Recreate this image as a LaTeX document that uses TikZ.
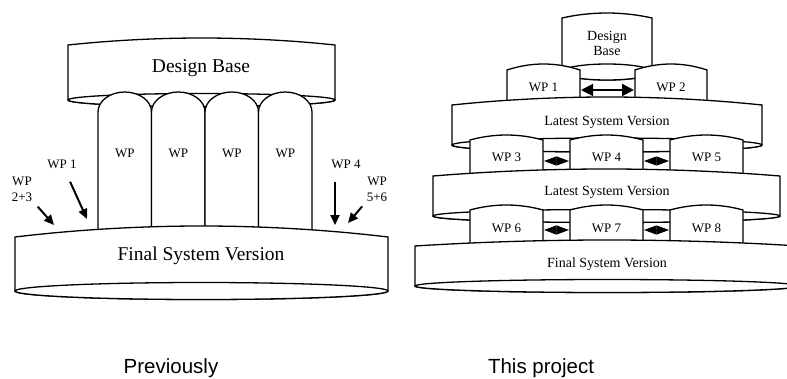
\documentclass[tikz,border=0pt]{standalone}
\usepackage{fontspec}
\setmainfont{Liberation Serif}
\newfontfamily\capfont{Liberation Sans}
\usetikzlibrary{arrows.meta}
\tikzset{
x=1pt, y=-1pt, % one unit is one pixel, y runs downwards
outline/.style={line width=1.3pt, fill=white}, % every drum and box
bigtext/.style={font=\fontsize{19.5}{22}\selectfont, anchor=base},
midtext/.style={font=\fontsize{14}{15}\selectfont, anchor=base, align=center},
wptext/.style={font=\fontsize{13}{16}\selectfont, anchor=base, align=center},
captext/.style={font=\capfont\fontsize{20.5}{24}\selectfont, anchor=base},
wparrow/.style={-{Triangle[length=10pt,width=9pt]}, line width=2pt}, % work packages dropping in
exchange/.style={{Triangle[length=12pt,width=12pt]}-{Triangle[length=12pt,width=12pt]}, line width=2pt},
trade/.style={{Triangle[length=12.5pt,width=9pt]}-{Triangle[length=12.5pt,width=9pt]}, line width=1pt},
}
% drum: left, right, top edge, top peak, ellipse centre, ellipse radius
\newcommand{\drum}[6]{%
  \filldraw[outline] (#1,#5) -- (#1,#3) parabola bend ({(#1+#2)/2},#4) (#2,#3) -- (#2,#5)
    arc[start angle=0, end angle=180, x radius={(#2-#1)/2}, y radius=#6] -- cycle;
  \draw[outline] ({(#1+#2)/2},#5) ellipse[x radius={(#2-#1)/2}, y radius=#6];}
% box with a curved lid: left, right, top edge, top peak, bottom
\newcommand{\wpcap}[5]{%
  \filldraw[outline] (#1,#5) -- (#1,#3) parabola bend ({(#1+#2)/2},#4) (#2,#3) -- (#2,#5) -- cycle;}

\begin{document}
\begin{tikzpicture}
    \useasboundingbox (0,0) rectangle (787,378);
    \clip (0,0) rectangle (787,378);

    % previously
    \drum{68}{335}{45}{38}{100}{6.5}
    \foreach \x [count=\n] in {98,151.5,205,258.5} {
        \filldraw[outline] (\x,234) -- (\x,112)
            arc[start angle=180, end angle=360, x radius=26.75, y radius=20] -- ({\x+53.5},234) -- cycle;
        \node[wptext] (pillar\n) at ({\x+26.75},157) {WP};
    }
    \drum{15}{388}{237}{226}{291}{8.5}
    \node[bigtext] (baseL) at (201,72) {Design Base};
    \node[bigtext] (finalL) at (201,260) {Final System Version};

    \node[wptext] (wp1L) at (62,168) {WP 1};
    \node[wptext, anchor=center] (wp23L) at (22,189) {WP\\2+3};
    \node[wptext] (wp4L) at (346,168) {WP 4};
    \node[wptext, anchor=center] (wp56L) at (377,189) {WP\\5+6};
    \coordinate (tip1) at (87,219);
    \coordinate (tip23) at (54,225);
    \coordinate (tip4) at (335,225);
    \coordinate (tip56) at (348,223);
    \draw[wparrow, shorten <=11pt] (wp1L) -- (tip1);
    \draw[wparrow, shorten <=3pt] (wp23L) -- (tip23);
    \draw[wparrow, shorten <=10pt] (wp4L.south -| tip4) -- (tip4);
    \draw[wparrow, shorten <=2pt] (wp56L) -- (tip56);

    % this project
    \drum{562}{652}{18}{13}{72}{8}
    \wpcap{507}{580}{70}{64}{104}
    \wpcap{635}{707}{70}{64}{104}
    \drum{452}{762}{105}{97}{145}{7}
    \foreach \x in {470,570,670} {\wpcap{\x}{\x+73}{140}{135}{178}}
    \drum{433}{780}{176}{169}{216}{6.5}
    \foreach \x in {470,570,670} {\wpcap{\x}{\x+73}{210}{205}{248}}
    \drum{415}{799}{246}{240}{286}{6.5}

    \node[midtext, anchor=center] (baseR) at (607,43) {Design\\Base};
    \node[midtext] (latest1) at (607,125) {Latest System Version};
    \node[midtext] (latest2) at (607,195) {Latest System Version};
    \node[midtext] (finalR) at (607,267) {Final System Version};
    \node[wptext] (wp1) at (543.5,91) {WP 1};
    \node[wptext] (wp2) at (671,91) {WP 2};
    \node[wptext] (wp3) at (506.5,161) {WP 3};
    \node[wptext] (wp4) at (606.5,161) {WP 4};
    \node[wptext] (wp5) at (706.5,161) {WP 5};
    \node[wptext] (wp6) at (506.5,232) {WP 6};
    \node[wptext] (wp7) at (606.5,232) {WP 7};
    \node[wptext] (wp8) at (706.5,232) {WP 8};

    \coordinate (g12l) at (581,90);   \coordinate (g12r) at (634,90);
    \coordinate (g34l) at (544,161);  \coordinate (g34r) at (569,161);
    \coordinate (g45l) at (644,161);  \coordinate (g45r) at (669,161);
    \coordinate (g67l) at (544,230);  \coordinate (g67r) at (569,230);
    \coordinate (g78l) at (644,230);  \coordinate (g78r) at (669,230);
    \draw[exchange] (g12l) -- (g12r);
    \draw[trade] (g34l) -- (g34r);
    \draw[trade] (g45l) -- (g45r);
    \draw[trade] (g67l) -- (g67r);
    \draw[trade] (g78l) -- (g78r);

    \node[captext] (prev) at (171,373) {Previously};
    \node[captext] (proj) at (541,373) {This project};
  \end{tikzpicture}
\end{document}
